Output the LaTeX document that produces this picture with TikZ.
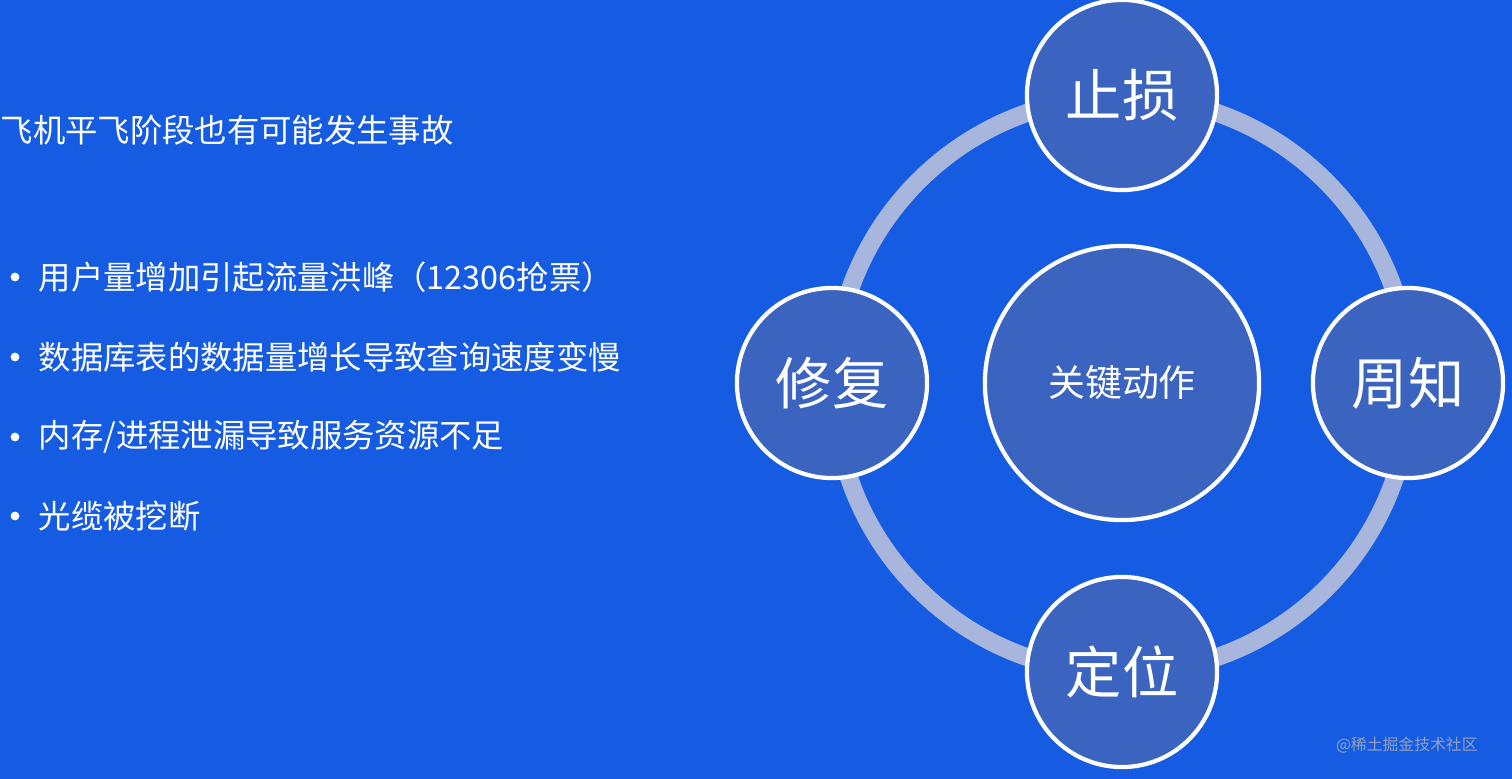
\documentclass[tikz,border=0pt]{standalone}
\usepackage{fontspec}
\newfontfamily\cjk{Noto Sans CJK SC}
\definecolor{bgblue}{RGB}{22,92,226}
\definecolor{discblue}{RGB}{58,100,192}
\definecolor{ringgray}{RGB}{168,182,222}
\definecolor{markgray}{RGB}{150,160,190}
\tikzset{
  disc/.style={draw=white, line width=1.2pt, circle, fill=discblue, text=white, minimum size=1.9cm, font=\cjk\fontsize{16}{16}\selectfont},
  item/.style={anchor=west, text=white, inner sep=0pt, font=\cjk\fontsize{9.2}{9.2}\selectfont},
  dot/.style={circle, fill=white, inner sep=0pt, minimum size=2.5pt}
}
\begin{document}
\begin{tikzpicture}[x=0.01cm,y=-0.01cm]
\fill[bgblue] (0,0) rectangle (1512,779);
\useasboundingbox (0,0) rectangle (1512,779);
% ring
\draw[ringgray, line width=0.18cm] (1122,385) circle (2.88cm);
\node[disc, minimum size=2.74cm, font=\cjk\fontsize{10.5}{10.5}\selectfont] (core) at (1122,383) {关键动作};
\node[disc] (stop) at (1122,95) {止损};
\node[disc] (tell) at (1408,383) {周知};
\node[disc] (fix) at (832,383) {修复};
\node[disc] (find) at (1122,672) {定位};
% text
\node[item] (title) at (0,130) {飞机平飞阶段也有可能发生事故};
\node[item] (a) at (38,277) {用户量增加引起流量洪峰（12306抢票）};
\node[item] (b) at (38,357) {数据库表的数据量增长导致查询速度变慢};
\node[item] (c) at (38,437) {内存/进程泄漏导致服务资源不足};
\node[item] (d) at (38,516) {光缆被挖断};
\foreach \n in {a,b,c,d} \node[dot] at ([xshift=-0.23cm]\n.west) {};
\node[anchor=east, text=markgray, font=\cjk\fontsize{4.5}{4.5}\selectfont] (mark) at (1490,745) {@稀土掘金技术社区};
\end{tikzpicture}
\end{document}
